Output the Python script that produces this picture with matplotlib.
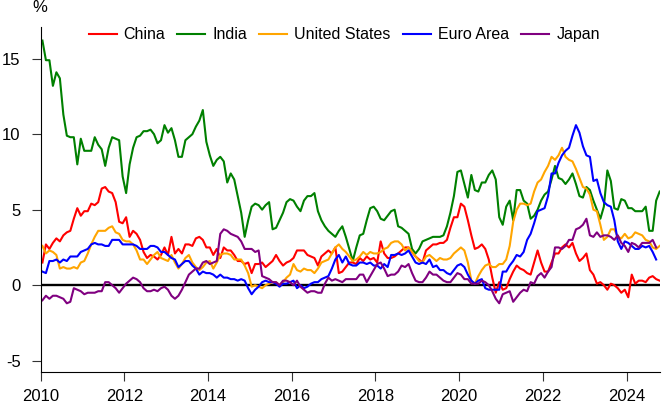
import numpy as np
import matplotlib
matplotlib.use("Agg")
import matplotlib.pyplot as plt

plt.rcParams['font.family'] = ['Liberation Sans', 'DejaVu Sans']

### Year-on-year consumer price inflation, monthly from Jan 2010 (%)
china = [
  1.5, 2.7, 2.4, 2.8, 3.1, 2.9, 3.3, 3.5, 3.6, 4.4, 5.1, 4.6,
  4.9, 4.9, 5.4, 5.3, 5.5, 6.4, 6.5, 6.2, 6.1, 5.5, 4.2, 4.1,
  4.5, 3.2, 3.6, 3.4, 3.0, 2.2, 1.8, 2.0, 1.9, 1.7, 2.0, 2.5,
  2.0, 3.2, 2.1, 2.4, 2.1, 2.7, 2.7, 2.6, 3.1, 3.2, 3.0, 2.5,
  2.5, 2.0, 2.4, 1.8, 2.5, 2.3, 2.3, 2.0, 1.6, 1.6, 1.4, 1.5,
  0.8, 1.4, 1.4, 1.5, 1.2, 1.4, 1.6, 2.0, 1.6, 1.3, 1.5, 1.6,
  1.8, 2.3, 2.3, 2.3, 2.0, 1.9, 1.8, 1.3, 1.9, 2.1, 2.3, 2.1,
  2.5, 0.8, 0.9, 1.2, 1.5, 1.5, 1.4, 1.8, 1.6, 1.9, 1.7, 1.8,
  1.5, 2.9, 2.1, 1.8, 1.8, 1.9, 2.1, 2.3, 2.5, 2.5, 2.2, 1.9,
  1.7, 1.5, 2.3, 2.5, 2.7, 2.7, 2.8, 2.8, 3.0, 3.8, 4.5, 4.5,
  5.4, 5.2, 4.3, 3.3, 2.4, 2.5, 2.7, 2.4, 1.7, 0.5, -0.5, 0.2,
  -0.3, -0.2, 0.4, 0.9, 1.3, 1.1, 1.0, 0.8, 0.7, 1.5, 2.3, 1.5,
  0.9, 0.9, 1.5, 2.1, 2.1, 2.5, 2.7, 2.5, 2.8, 2.1, 1.6, 1.8,
  2.1, 1.0, 0.7, 0.1, 0.2, 0.0, -0.3, 0.1, 0.0, -0.2, -0.5, -0.3,
  -0.8, 0.7, 0.1, 0.3, 0.3, 0.2, 0.5, 0.6, 0.4, 0.3,
]
india = [
  16.2, 14.9, 14.9, 13.2, 14.1, 13.7, 11.3, 9.9, 9.8, 9.8, 8.0, 9.7,
  8.9, 8.9, 8.9, 9.8, 9.3, 9.0, 7.9, 9.1, 9.8, 9.7, 9.6, 7.2,
  6.1, 8.0, 9.1, 9.8, 9.9, 10.2, 10.2, 10.3, 10.0, 9.4, 9.6, 10.6,
  10.1, 10.4, 9.6, 8.5, 8.5, 9.6, 9.8, 10.0, 10.5, 10.9, 11.6, 9.5,
  8.6, 7.9, 8.3, 8.5, 8.2, 6.8, 7.4, 7.0, 5.9, 4.8, 3.2, 4.3,
  5.2, 5.4, 5.3, 5.0, 5.3, 5.5, 3.7, 3.8, 4.3, 4.8, 5.5, 5.7,
  5.6, 5.2, 4.9, 5.6, 5.9, 5.9, 6.1, 4.9, 4.3, 3.9, 3.6, 3.4,
  3.2, 3.6, 3.9, 3.2, 2.4, 1.6, 2.5, 3.3, 3.4, 4.3, 5.1, 5.2,
  4.9, 4.4, 4.3, 4.6, 4.9, 5.0, 3.9, 3.8, 3.6, 3.4, 2.4, 2.1,
  2.4, 2.9, 3.0, 3.1, 3.2, 3.2, 3.2, 3.3, 3.9, 4.8, 5.9, 7.5,
  7.6, 6.7, 5.8, 7.3, 6.3, 6.2, 6.8, 6.8, 7.3, 7.6, 7.0, 4.5,
  4.0, 5.2, 5.6, 4.3, 6.3, 6.3, 5.6, 5.4, 4.4, 4.6, 5.0, 5.6,
  6.0, 6.2, 7.0, 7.9, 7.1, 7.0, 6.7, 7.0, 7.4, 6.7, 5.9, 5.8,
  6.5, 6.3, 5.6, 5.0, 4.4, 5.2, 7.6, 6.9, 5.1, 5.0, 5.7, 5.6,
  5.1, 5.1, 4.9, 4.9, 4.9, 5.2, 3.6, 3.6, 5.6, 6.2,
]
united_states = [
  2.6, 2.1, 2.3, 2.2, 2.0, 1.1, 1.2, 1.1, 1.1, 1.2, 1.1, 1.5,
  1.6, 2.1, 2.7, 3.2, 3.6, 3.6, 3.6, 3.8, 3.9, 3.5, 3.4, 3.0,
  2.9, 2.9, 2.7, 2.3, 1.7, 1.7, 1.4, 1.7, 2.0, 2.2, 1.8, 1.7,
  1.6, 2.0, 1.5, 1.1, 1.4, 1.8, 2.0, 1.5, 1.2, 1.0, 1.2, 1.5,
  1.6, 1.1, 1.5, 2.0, 2.1, 2.1, 2.0, 1.7, 1.7, 1.7, 1.3, 0.8,
  -0.1, 0.0, -0.1, -0.2, 0.0, 0.1, 0.2, 0.2, 0.0, 0.2, 0.5, 0.7,
  1.4, 1.0, 0.9, 1.1, 1.0, 1.0, 0.8, 1.1, 1.5, 1.6, 1.7, 2.1,
  2.5, 2.7, 2.4, 2.2, 1.9, 1.6, 1.7, 1.9, 2.2, 2.0, 2.2, 2.1,
  2.1, 2.2, 2.4, 2.5, 2.8, 2.9, 2.9, 2.7, 2.3, 2.5, 2.2, 1.9,
  1.6, 1.5, 1.9, 2.0, 1.8, 1.6, 1.8, 1.7, 1.7, 1.8, 2.1, 2.3,
  2.5, 2.3, 1.5, 0.3, 0.1, 0.6, 1.0, 1.3, 1.4, 1.2, 1.2, 1.4,
  1.4, 1.7, 2.6, 4.2, 5.0, 5.4, 5.4, 5.3, 5.4, 6.2, 6.8, 7.0,
  7.5, 7.9, 8.5, 8.3, 8.6, 9.1, 8.5, 8.3, 8.2, 7.7, 7.1, 6.5,
  6.4, 6.0, 5.0, 4.9, 4.0, 3.0, 3.2, 3.7, 3.7, 3.2, 3.1, 3.4,
  3.1, 3.2, 3.5, 3.4, 3.3, 3.0, 2.9, 2.5, 2.4, 2.6,
]
euro_area = [
  0.9, 0.8, 1.6, 1.6, 1.7, 1.5, 1.7, 1.6, 1.9, 1.9, 1.9, 2.2,
  2.3, 2.4, 2.7, 2.8, 2.7, 2.7, 2.6, 2.6, 3.0, 3.0, 3.0, 2.7,
  2.7, 2.7, 2.7, 2.6, 2.4, 2.4, 2.4, 2.6, 2.6, 2.5, 2.2, 2.2,
  2.0, 1.8, 1.7, 1.2, 1.4, 1.6, 1.6, 1.3, 1.1, 0.7, 0.9, 0.8,
  0.8, 0.7, 0.5, 0.7, 0.5, 0.5, 0.4, 0.4, 0.3, 0.4, 0.3, -0.2,
  -0.6, -0.3, -0.1, 0.2, 0.3, 0.2, 0.2, 0.1, -0.1, 0.1, 0.1, 0.2,
  0.3, -0.2, 0.0, -0.2, -0.1, 0.1, 0.2, 0.2, 0.4, 0.5, 0.6, 1.1,
  1.7, 2.0, 1.5, 1.9, 1.4, 1.3, 1.3, 1.5, 1.5, 1.4, 1.5, 1.3,
  1.3, 1.1, 1.4, 1.2, 2.0, 2.0, 2.1, 2.0, 2.1, 2.3, 1.9, 1.5,
  1.4, 1.5, 1.4, 1.7, 1.2, 1.3, 1.0, 1.0, 0.8, 0.7, 1.0, 1.3,
  1.4, 1.2, 0.7, 0.3, 0.1, 0.3, 0.4, -0.2, -0.3, -0.3, -0.3, -0.3,
  0.9, 0.9, 1.3, 1.6, 2.0, 1.9, 2.2, 3.0, 3.4, 4.1, 4.9, 5.0,
  5.1, 5.9, 7.4, 7.4, 8.1, 8.6, 8.9, 9.1, 9.9, 10.6, 10.1, 9.2,
  8.6, 8.5, 6.9, 7.0, 6.1, 5.5, 5.3, 5.2, 4.3, 2.9, 2.4, 2.9,
  2.8, 2.6, 2.4, 2.4, 2.6, 2.5, 2.6, 2.2, 1.7,
]
japan = [
  -1.0, -0.7, -0.9, -0.7, -0.7, -0.8, -0.9, -1.2, -1.1, -0.2, -0.3, -0.4,
  -0.6, -0.5, -0.5, -0.5, -0.4, -0.4, 0.2, 0.2, 0.0, -0.2, -0.5, -0.2,
  0.1, 0.3, 0.5, 0.4, 0.2, -0.2, -0.4, -0.4, -0.3, -0.4, -0.2, -0.1,
  -0.3, -0.7, -0.9, -0.7, -0.3, 0.2, 0.7, 0.9, 1.1, 1.1, 1.5, 1.6,
  1.4, 1.5, 1.6, 3.4, 3.7, 3.6, 3.4, 3.3, 3.2, 2.9, 2.4, 2.4,
  2.4, 2.2, 2.3, 0.6, 0.5, 0.4, 0.2, 0.2, 0.0, 0.3, 0.3, 0.2,
  0.0, 0.3, -0.1, -0.3, -0.5, -0.4, -0.4, -0.5, -0.5, 0.1, 0.5, 0.3,
  0.4, 0.3, 0.2, 0.4, 0.4, 0.4, 0.4, 0.7, 0.7, 0.2, 0.6, 1.0,
  1.4, 1.5, 1.1, 0.6, 0.7, 0.7, 0.9, 1.3, 1.2, 1.4, 0.8, 0.3,
  0.2, 0.2, 0.5, 0.9, 0.7, 0.7, 0.5, 0.3, 0.2, 0.2, 0.5, 0.8,
  0.7, 0.4, 0.4, 0.1, 0.1, 0.1, 0.3, 0.2, 0.0, -0.4, -0.9, -1.2,
  -0.6, -0.5, -0.4, -1.1, -0.8, -0.5, -0.3, -0.4, 0.2, 0.1, 0.6, 0.8,
  0.5, 0.9, 1.2, 2.5, 2.5, 2.4, 2.6, 3.0, 3.0, 3.7, 3.8, 4.0,
  4.4, 3.3, 3.2, 3.5, 3.2, 3.3, 3.3, 3.2, 3.0, 3.3, 2.8, 2.6,
  2.2, 2.8, 2.7, 2.5, 2.8, 2.8, 2.8, 3.0, 2.5,
]

series = [
  ('China', china, '#ff0000'),
  ('India', india, '#008000'),
  ('United States', united_states, '#ffa500'),
  ('Euro Area', euro_area, '#0000ff'),
  ('Japan', japan, '#800080'),
]
year_ticks = [2010, 2012, 2014, 2016, 2018, 2020, 2022, 2024]
value_ticks = [-5, 0, 5, 10, 15]


def months(n):
  ### mid-month positions as decimal years
  return 2010 + (np.arange(n) + 0.5) / 12.0


fig = plt.figure(figsize=(6.67, 4.07), dpi=100)
ax = fig.add_axes([0.061, 0.086, 0.9285, 0.8477])

for name, vals, col in series:
  ax.plot(months(len(vals)), vals, color=col, lw=1.5, label=name)

ax.axhline(0, color='black', lw=1.7, zorder=1)

ax.set_xlim(2010, 2024.8)
ax.set_ylim(-5.75, 17.1)
ax.set_xticks(year_ticks)
ax.set_xticklabels([str(y) for y in year_ticks])
ax.set_yticks(value_ticks)
ax.set_yticklabels([str(v) for v in value_ticks])

for s in ('top', 'right'):
  ax.spines[s].set_visible(False)
for s in ('left', 'bottom'):
  ax.spines[s].set_linewidth(0.8)

ax.tick_params(axis='both', direction='out', length=6.5, width=0.8,
               labelsize=12, colors='#333333', labelcolor='black')
ax.tick_params(axis='y', pad=8)
ax.tick_params(axis='x', pad=6)

ax.legend(loc='center', bbox_to_anchor=(0.49, 0.977), ncol=5, frameon=False,
          fontsize=11.5, handlelength=1.75, handletextpad=0.45,
          columnspacing=0.75, borderaxespad=0)

fig.text(40 / 667, 1 - 8 / 407, '%', ha='center', va='center', fontsize=12)

fig.savefig('out.png', dpi=100)
